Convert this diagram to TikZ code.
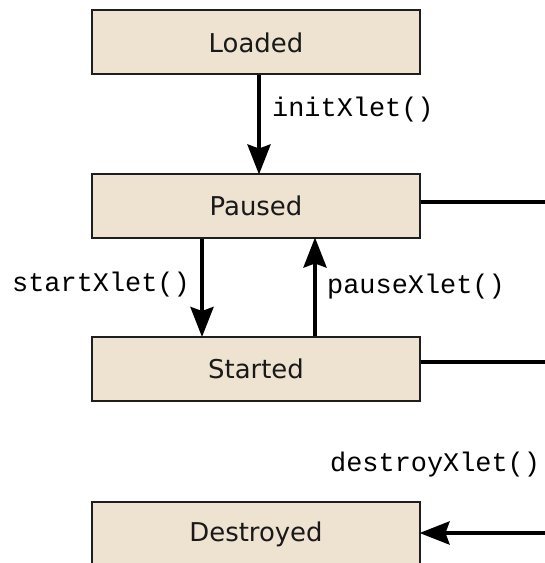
\documentclass[tikz,border=0pt]{standalone}
\usepackage{fontspec}
\setmainfont{DejaVu Sans}
\newfontfamily\codefont{Liberation Mono}
\usetikzlibrary{arrows.meta}
\definecolor{boxfill}{RGB}{238,227,208}
\definecolor{boxline}{RGB}{30,30,30}
\tikzset{
  state/.style={draw=boxline, line width=2bp, fill=boxfill, minimum width=328bp, minimum height=64bp, inner sep=0pt, font=\fontsize{26}{30}\selectfont, text=black!90},
  trans/.style={line width=4bp, shorten >=-1.5bp, -{Stealth[length=30bp, width=23bp, inset=4bp]}},
  plain/.style={line width=4bp},
  lbl/.style={anchor=west, inner sep=0pt, font=\codefont\fontsize{27}{30}\selectfont}
}
\begin{document}
\begin{tikzpicture}[x=1bp,y=-1bp]
\useasboundingbox (0,0) rectangle (545,563);
\node[state] (loaded) at (256,42.5) {Loaded};
\node[state] (paused) at (256,206) {Paused};
\node[state] (started) at (256,368.5) {Started};
\node[state] (destroyed) at (256,534) {Destroyed};
\coordinate (pe) at (545,202);
\coordinate (se) at (545,362);
\coordinate (de) at (545,533);
\draw[trans] (loaded.south -| 259,0) -- (paused.north -| 259,0);
\draw[trans] (paused.south -| 202,0) -- (started.north -| 202,0);
\draw[trans] (started.north -| 315,0) -- (paused.south -| 315,0);
\draw[plain] (paused.east |- pe) -- (pe);
\draw[plain] (started.east |- se) -- (se);
\draw[trans] (de) -- (destroyed.east |- de);
\node[lbl] (l1) at (272,110) {initXlet()};
\node[lbl] (l2) at (12,285) {startXlet()};
\node[lbl] (l3) at (327,287) {pauseXlet()};
\node[lbl] (l4) at (330,465) {destroyXlet()};
\end{tikzpicture}
\end{document}
